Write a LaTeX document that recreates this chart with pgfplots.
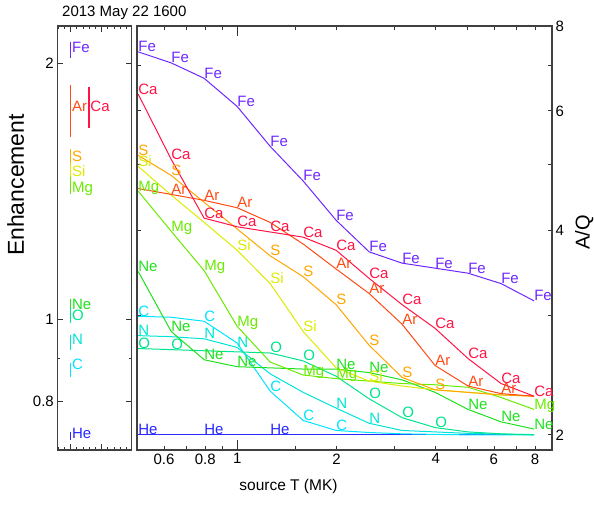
\documentclass[border=0pt]{standalone}
\usepackage{pgfplots}
\pgfplotsset{compat=1.18}
\usepackage{fontspec}
\setmainfont{Liberation Sans}
\definecolor{cFe}{RGB}{110,40,255}
\definecolor{cCa}{RGB}{255,20,70}
\definecolor{cAr}{RGB}{255,75,20}
\definecolor{cS}{RGB}{255,165,0}
\definecolor{cSi}{RGB}{220,235,0}
\definecolor{cMg}{RGB}{105,235,0}
\definecolor{cNe}{RGB}{30,225,30}
\definecolor{cO}{RGB}{0,228,140}
\definecolor{cN}{RGB}{0,228,215}
\definecolor{cC}{RGB}{0,228,255}
\definecolor{cHe}{RGB}{40,40,255}
\pgfplotsset{
  lbl/.style 2 args={draw=none, mark=none, nodes near coords={#1},
    every node near coord/.append style={anchor=base west, inner sep=0pt, text=#2, font=\fontsize{15}{15}\selectfont}},
  ln/.style={#1, line width=1pt, mark=none},
  bar/.style={#1, line width=1.1pt, mark=none},
}
\begin{document}
\begin{tikzpicture}[x=1pt,y=1pt]
\useasboundingbox (0,0) rectangle (594,504);
% left panel: enhancements
\begin{axis}[
  at={(57.3pt,54pt)}, anchor=south west, width=74.4pt, height=424pt, scale only axis,
  clip=false,
  xmin=-0.432, xmax=1.968, ymode=log, ymin=0.702, ymax=2.214,
  xtick={0,1}, xticklabels={}, minor xtick={-0.4,-0.2,0.2,0.4,0.6,0.8,1.2,1.4,1.6,1.8},
  ytick={0.8,1,2}, yticklabels={0.8,1,2}, minor ytick={0.9},
  tick align=inside, major tick length=6pt, minor tick length=3pt,
  tick style={black!80, line width=0.8pt},
  axis line style={black!75, line width=1.2pt},
  ticklabel style={font=\fontsize{15}{15}\selectfont},
  /pgf/number format/assume math mode=true,
  ylabel={Enhancement},
  ylabel style={at={(axis description cs:-0.56,0.625)}, anchor=center, font=\fontsize{23}{23}\selectfont},
]
\addplot[bar=cFe] coordinates {(0,2.029) (0,2.122)};
\addplot[bar=cAr] coordinates {(0,1.640) (0,1.887)};
\addplot[bar=cCa] coordinates {(0.59,1.678) (0.59,1.878)};
\addplot[bar=cS] coordinates {(0,1.519) (0,1.586)};
\addplot[bar=cSi] coordinates {(0,1.467) (0,1.527)};
\addplot[bar=cMg] coordinates {(0,1.404) (0,1.471)};
\addplot[bar=cNe] coordinates {(0,1.009) (0,1.057)};
\addplot[bar=cO] coordinates {(0,0.990) (0,1.031)};
\addplot[bar=cN] coordinates {(0,0.920) (0,0.958)};
\addplot[bar=cC] coordinates {(0,0.855) (0,0.888)};
\addplot[bar=cHe] coordinates {(0,0.721) (0,0.737)};
\addplot[lbl={Fe}{cFe}] coordinates {(0.04,2.058)};
\addplot[lbl={Ar}{cAr}] coordinates {(0.04,1.754)};
\addplot[lbl={Ca}{cCa}] coordinates {(0.63,1.754)};
\addplot[lbl={S}{cS}] coordinates {(0.04,1.532)};
\addplot[lbl={Si}{cSi}] coordinates {(0.04,1.471)};
\addplot[lbl={Mg}{cMg}] coordinates {(0.04,1.412)};
\addplot[lbl={Ne}{cNe}] coordinates {(0.04,1.026)};
\addplot[lbl={O}{cO}] coordinates {(0.04,0.998)};
\addplot[lbl={N}{cN}] coordinates {(0.04,0.933)};
\addplot[lbl={C}{cC}] coordinates {(0.04,0.874)};
\addplot[lbl={He}{cHe}] coordinates {(0.04,0.725)};
\node[anchor=west, font=\fontsize{15}{15}\selectfont, inner sep=0pt] at (rel axis cs:0.063,1.032) {2013 May 22 1600};
\end{axis}
% main panel: A/Q vs T
\begin{axis}[
  at={(137pt,54pt)}, anchor=south west, width=415pt, height=424pt, scale only axis,
  clip=false,
  xmode=log, ymode=log, xmin=0.497, xmax=9.0, ymin=1.9, ymax=8,
  xtick={0.6,0.8,1,2,4,6,8}, xticklabels={0.6,0.8,1,2,4,6,8},
  minor xtick={0.5,0.7,0.9,1.5,3,5,7},
  extra x ticks={1}, extra x tick labels={}, extra x tick style={major tick length=10pt},
  ytick={2,4,6,8}, yticklabels={2,4,6,8}, minor ytick={3,5,7},
  yticklabel pos=right,
  tick align=inside, major tick length=4.5pt, minor tick length=4pt,
  tick style={black!80, line width=0.8pt},
  axis line style={black!75, line width=1.2pt},
  ticklabel style={font=\fontsize{15}{15}\selectfont},
  /pgf/number format/assume math mode=true,
  xlabel={source T (MK)},
  xlabel style={at={(axis description cs:0.365,-0.087)}, anchor=center, font=\fontsize{15.5}{15.5}\selectfont},
  ylabel={A/Q},
  ylabel style={at={(axis description cs:1.078,0.513)}, anchor=center, font=\fontsize{20}{20}\selectfont},
]
% He
\addplot[ln=cHe] coordinates {(0.5012,2.0)(0.6310,2.0)(0.7943,2.0)(1,2.0)(1.2589,2.0)(1.5849,2.0)(1.9953,2.0)(2.5119,2.0)(3.1623,2.0)(3.9811,2.0)(5.0119,2.0)(6.3096,2.0)(7.9433,2.0)};
\addplot[lbl={He}{cHe}] coordinates {(0.5012,2.0)(0.7943,2.0)(1.2589,2.0)};
% C
\addplot[ln=cC] coordinates {(0.5012,2.99)(0.6310,2.98)(0.7943,2.94)(1,2.73)(1.2589,2.32)(1.5849,2.10)(1.9953,2.03)(2.5119,2.016)(3.1623,2.007)(3.9811,2.003)(5.0119,2.0)(6.3096,2.0)(7.9433,2.0)};
\addplot[lbl={C}{cC}] coordinates {(0.5012,2.99)(0.7943,2.94)(1.2589,2.32)(1.5849,2.10)(1.9953,2.03)};
% N
\addplot[ln=cN] coordinates {(0.5012,2.80)(0.6310,2.79)(0.7943,2.77)(1,2.69)(1.2589,2.46)(1.5849,2.31)(1.9953,2.19)(2.5119,2.08)(3.1623,2.03)(3.9811,2.02)(5.0119,2.01)(6.3096,2.005)(7.9433,2.002)};
\addplot[lbl={N}{cN}] coordinates {(0.5012,2.80)(0.7943,2.77)(1,2.69)(1.9953,2.19)(2.5119,2.08)};
% O
\addplot[ln=cO] coordinates {(0.5012,2.68)(0.6310,2.67)(0.7943,2.66)(1,2.65)(1.2589,2.64)(1.5849,2.57)(1.9953,2.44)(2.5119,2.26)(3.1623,2.12)(3.9811,2.05)(5.0119,2.02)(6.3096,2.007)(7.9433,2.0)};
\addplot[lbl={O}{cO}] coordinates {(0.5012,2.68)(0.6310,2.67)(1.2589,2.64)(1.5849,2.57)(2.5119,2.26)(3.1623,2.12)(3.9811,2.05)};
% Ne
\addplot[ln=cNe] coordinates {(0.5012,3.48)(0.6310,2.84)(0.7943,2.58)(1,2.52)(1.2589,2.51)(1.5849,2.50)(1.9953,2.50)(2.5119,2.47)(3.1623,2.41)(3.9811,2.31)(5.0119,2.18)(6.3096,2.09)(7.9433,2.04)};
\addplot[lbl={Ne}{cNe}] coordinates {(0.5012,3.48)(0.6310,2.84)(0.7943,2.58)(1,2.52)(1.9953,2.50)(2.5119,2.47)(5.0119,2.18)(6.3096,2.09)(7.9433,2.04)};
% Mg
\addplot[ln=cMg] coordinates {(0.5012,4.57)(0.6310,3.99)(0.7943,3.49)(1,2.89)(1.2589,2.56)(1.5849,2.45)(1.9953,2.42)(2.5119,2.40)(3.1623,2.38)(3.9811,2.37)(5.0119,2.35)(6.3096,2.27)(7.9433,2.18)};
\addplot[lbl={Mg}{cMg}] coordinates {(0.5012,4.57)(0.6310,3.99)(0.7943,3.49)(1,2.89)(1.5849,2.45)(1.9953,2.42)(7.9433,2.18)};
% Si
\addplot[ln=cSi] coordinates {(0.5012,4.97)(0.6310,4.51)(0.7943,4.11)(1,3.74)(1.2589,3.34)(1.5849,2.84)(1.9953,2.51)(2.5119,2.40)(3.1623,2.36)(3.9811,2.33)(5.0119,2.31)(6.3096,2.29)(7.9433,2.28)};
\addplot[lbl={Si}{cSi}] coordinates {(0.5012,4.97)(1,3.74)(1.2589,3.34)(1.5849,2.84)(2.5119,2.40)};
% S
\addplot[ln=cS] coordinates {(0.5012,5.16)(0.6310,4.82)(0.7943,4.40)(1,4.02)(1.2589,3.67)(1.5849,3.42)(1.9953,3.11)(2.5119,2.71)(3.1623,2.43)(3.9811,2.33)(5.0119,2.31)(6.3096,2.29)(7.9433,2.28)};
\addplot[lbl={S}{cS}] coordinates {(0.5012,5.16)(0.6310,4.82)(1.2589,3.67)(1.5849,3.42)(1.9953,3.11)(2.5119,2.71)(3.1623,2.43)(3.9811,2.33)};
% Ar
\addplot[ln=cAr] coordinates {(0.5012,4.61)(0.6310,4.52)(0.7943,4.43)(1,4.32)(1.2589,4.11)(1.5849,3.82)(1.9953,3.51)(2.5119,3.23)(3.1623,2.91)(3.9811,2.53)(5.0119,2.36)(6.3096,2.30)(7.9433,2.28)};
\addplot[lbl={Ar}{cAr}] coordinates {(0.6310,4.52)(0.7943,4.43)(1,4.32)(1.9953,3.51)(2.5119,3.23)(3.1623,2.91)(3.9811,2.53)(5.0119,2.36)(6.3096,2.30)};
% Ca
\addplot[ln=cCa] coordinates {(0.5012,6.35)(0.6310,5.09)(0.7943,4.17)(1,4.05)(1.2589,3.98)(1.5849,3.91)(1.9953,3.74)(2.5119,3.40)(3.1623,3.11)(3.9811,2.87)(5.0119,2.59)(6.3096,2.38)(7.9433,2.28)};
\addplot[lbl={Ca}{cCa}] coordinates {(0.5012,6.35)(0.6310,5.09)(0.7943,4.17)(1,4.05)(1.2589,3.98)(1.5849,3.91)(1.9953,3.74)(2.5119,3.40)(3.1623,3.11)(3.9811,2.87)(5.0119,2.59)(6.3096,2.38)(7.9433,2.28)};
% Fe
\addplot[ln=cFe] coordinates {(0.5012,7.33)(0.6310,7.06)(0.7943,6.70)(1,6.09)(1.2589,5.32)(1.5849,4.73)(1.9953,4.14)(2.5119,3.72)(3.1623,3.58)(3.9811,3.52)(5.0119,3.46)(6.3096,3.34)(7.9433,3.15)};
\addplot[lbl={Fe}{cFe}] coordinates {(0.5012,7.33)(0.6310,7.06)(0.7943,6.70)(1,6.09)(1.2589,5.32)(1.5849,4.73)(1.9953,4.14)(2.5119,3.72)(3.1623,3.58)(3.9811,3.52)(5.0119,3.46)(6.3096,3.34)(7.9433,3.15)};
\end{axis}
\end{tikzpicture}
\end{document}
